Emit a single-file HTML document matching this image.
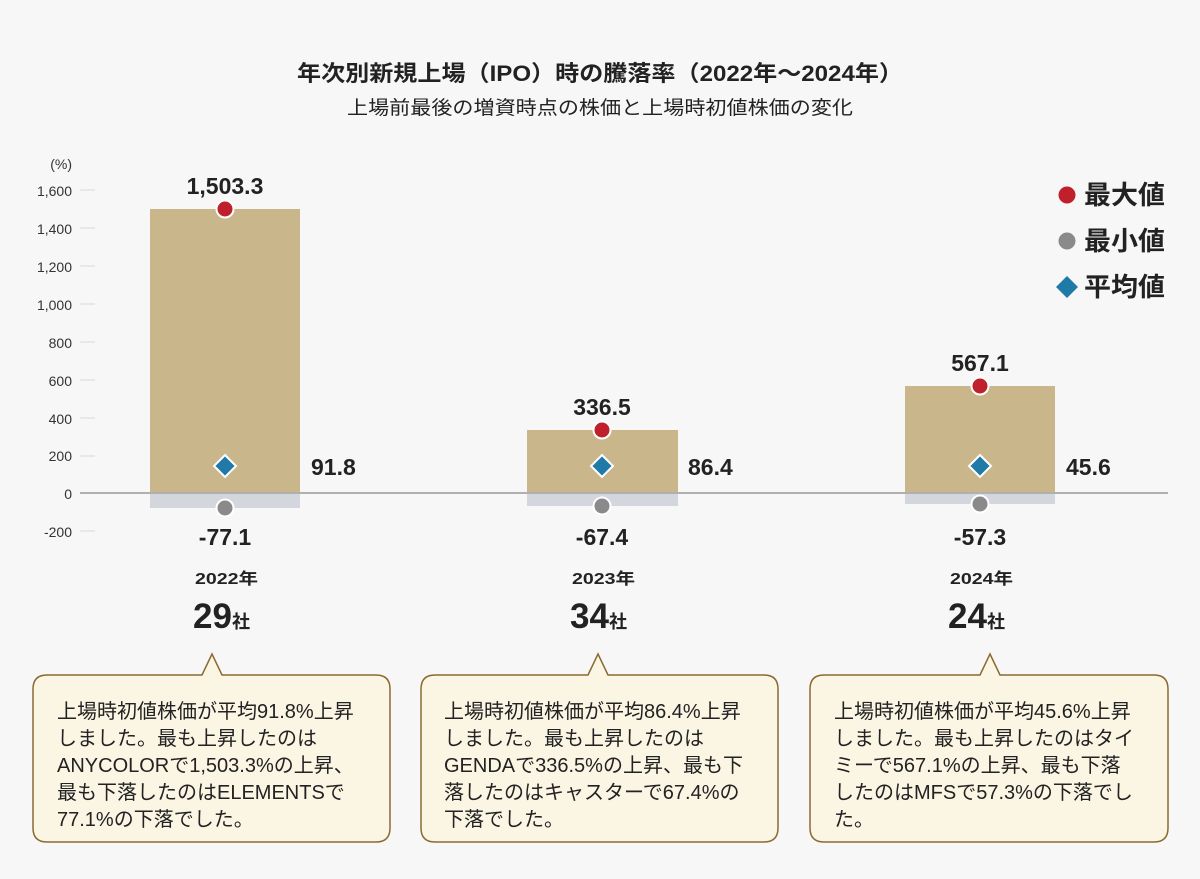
<!DOCTYPE html>
<html><head><meta charset="utf-8"><style>
body{margin:0;background:#f7f7f7;}
svg{display:block;font-family:"Liberation Sans","Noto Sans CJK JP",sans-serif;}
</style></head><body>
<svg width="1200" height="879" viewBox="0 0 1200 879" xmlns="http://www.w3.org/2000/svg">
<rect width="1200" height="879" fill="#f7f7f7"/>
<text x="297" y="81" font-size="22" font-weight="bold" fill="#222" textLength="606" lengthAdjust="spacingAndGlyphs">年次別新規上場（IPO）時の騰落率（2022年～2024年）</text>
<text x="347" y="114" font-size="19" fill="#222" textLength="506" lengthAdjust="spacingAndGlyphs">上場前最後の増資時点の株価と上場時初値株価の変化</text>
<g font-size="14" fill="#333" text-anchor="end">
<text x="72" y="169">(%)</text>
<text x="72" y="196">1,600</text><text x="72" y="234">1,400</text><text x="72" y="272">1,200</text>
<text x="72" y="310">1,000</text><text x="72" y="348">800</text><text x="72" y="386">600</text>
<text x="72" y="424">400</text><text x="72" y="461">200</text><text x="72" y="499">0</text><text x="72" y="537">-200</text>
</g>
<g stroke="#e2e2e2" stroke-width="1.5">
<line x1="80" x2="95" y1="190" y2="190"/><line x1="80" x2="95" y1="228" y2="228"/><line x1="80" x2="95" y1="266" y2="266"/>
<line x1="80" x2="95" y1="304" y2="304"/><line x1="80" x2="95" y1="342" y2="342"/><line x1="80" x2="95" y1="380" y2="380"/>
<line x1="80" x2="95" y1="418" y2="418"/><line x1="80" x2="95" y1="456" y2="456"/><line x1="80" x2="95" y1="531" y2="531"/>
</g>
<g fill="#cab68b">
<rect x="150" y="209" width="150" height="284"/>
<rect x="527" y="430" width="151" height="63"/>
<rect x="905" y="386" width="150" height="107"/>
</g>
<g fill="#d3d6dc">
<rect x="150" y="493" width="150" height="15"/>
<rect x="527" y="493" width="151" height="13"/>
<rect x="905" y="493" width="150" height="11"/>
</g>
<line x1="80" x2="1168" y1="493" y2="493" stroke="#b0b0b0" stroke-width="2"/>
<g stroke="#fff" stroke-width="2">
<circle cx="225" cy="209" r="8.5" fill="#c0202c"/><circle cx="602" cy="430" r="8.5" fill="#c0202c"/><circle cx="980" cy="386" r="8.5" fill="#c0202c"/>
<circle cx="225" cy="508" r="8.5" fill="#8a8a8a"/><circle cx="602" cy="506" r="8.5" fill="#8a8a8a"/><circle cx="980" cy="504" r="8.5" fill="#8a8a8a"/>
<path d="M225 455l11 11-11 11-11-11z" fill="#1f7aa8"/><path d="M602 455l11 11-11 11-11-11z" fill="#1f7aa8"/><path d="M980 455l11 11-11 11-11-11z" fill="#1f7aa8"/>
</g>
<g font-size="23" font-weight="bold" fill="#222" text-anchor="middle">
<text x="225" y="194">1,503.3</text><text x="602" y="415">336.5</text><text x="980" y="371">567.1</text>
<text x="225" y="545">-77.1</text><text x="602" y="545">-67.4</text><text x="980" y="545">-57.3</text>
</g>
<g font-size="23" font-weight="bold" fill="#222">
<text x="311" y="475">91.8</text><text x="688" y="475">86.4</text><text x="1066" y="475">45.6</text>
</g>
<g font-weight="bold" fill="#222">
<text x="195" y="584" font-size="16" textLength="63" lengthAdjust="spacingAndGlyphs">2022年</text>
<text x="572" y="584" font-size="16" textLength="63" lengthAdjust="spacingAndGlyphs">2023年</text>
<text x="950" y="584" font-size="16" textLength="63" lengthAdjust="spacingAndGlyphs">2024年</text>
<text x="193" y="628" font-size="35">29<tspan font-size="18">社</tspan></text>
<text x="570" y="628" font-size="35">34<tspan font-size="18">社</tspan></text>
<text x="948" y="628" font-size="35">24<tspan font-size="18">社</tspan></text>
</g>
<circle cx="1067" cy="195" r="8.5" fill="#c0202c"/><circle cx="1067" cy="241" r="8.5" fill="#8a8a8a"/>
<path d="M1067 276l11 11-11 11-11-11z" fill="#1f7aa8"/>
<g font-size="26" font-weight="bold" fill="#222">
<text x="1084" y="204" textLength="81" lengthAdjust="spacingAndGlyphs">最大値</text>
<text x="1084" y="250" textLength="81" lengthAdjust="spacingAndGlyphs">最小値</text>
<text x="1084" y="296" textLength="81" lengthAdjust="spacingAndGlyphs">平均値</text>
</g>
<g fill="#fbf5e4" stroke="#8b6a30" stroke-width="1.5">
<path d="M47 675H202L212 654L222 675H376Q390 675 390 689V828Q390 842 376 842H47Q33 842 33 828V689Q33 675 47 675Z"/>
<path d="M435 675H588L598 654L608 675H764Q778 675 778 689V828Q778 842 764 842H435Q421 842 421 828V689Q421 675 435 675Z"/>
<path d="M824 675H980L990 654L1000 675H1154Q1168 675 1168 689V828Q1168 842 1154 842H824Q810 842 810 828V689Q810 675 824 675Z"/>
</g>
<g font-size="20" fill="#222">
<text x="57" y="718">上場時初値株価が平均91.8%上昇</text>
<text x="57" y="745">しました。最も上昇したのは</text>
<text x="57" y="772">ANYCOLORで1,503.3%の上昇、</text>
<text x="57" y="799">最も下落したのはELEMENTSで</text>
<text x="57" y="826">77.1%の下落でした。</text>
<text x="444" y="718">上場時初値株価が平均86.4%上昇</text>
<text x="444" y="745">しました。最も上昇したのは</text>
<text x="444" y="772">GENDAで336.5%の上昇、最も下</text>
<text x="444" y="799">落したのはキャスターで67.4%の</text>
<text x="444" y="826">下落でした。</text>
<text x="834" y="718">上場時初値株価が平均45.6%上昇</text>
<text x="834" y="745">しました。最も上昇したのはタイ</text>
<text x="834" y="772">ミーで567.1%の上昇、最も下落</text>
<text x="834" y="799">したのはMFSで57.3%の下落でし</text>
<text x="834" y="826">た。</text>
</g>
</svg>
</body></html>
